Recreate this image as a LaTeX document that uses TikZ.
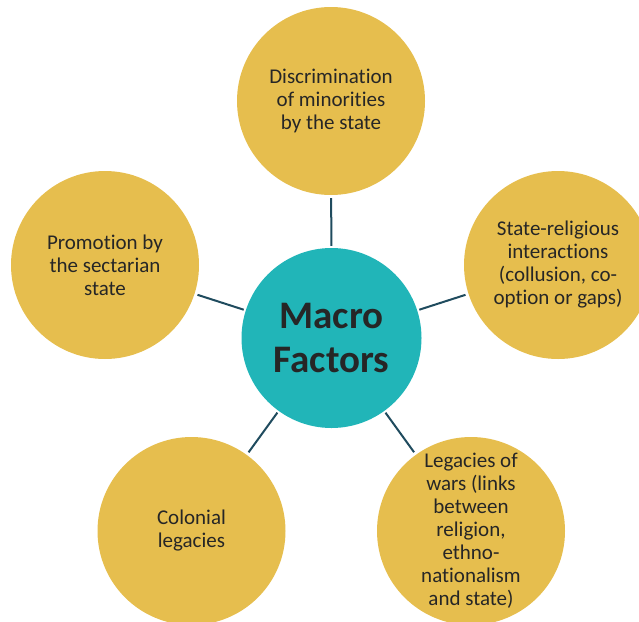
\documentclass[tikz,border=0pt]{standalone}
\usepackage{fontspec}
\setmainfont{Carlito}[Ligatures=NoCommon]
\definecolor{gold}{HTML}{E6BE4E}
\definecolor{teal}{HTML}{21B5B8}
\definecolor{ink}{HTML}{262626}
\definecolor{linkcol}{HTML}{1F4B5E}
\tikzset{
  factor/.style={circle, fill=gold, inner sep=0pt, minimum size=188pt, align=center,
    text=ink, font=\fontsize{21}{23}\selectfont},
  hub/.style={circle, fill=teal, inner sep=0pt, minimum size=180pt, align=center,
    text=ink, font=\fontsize{39}{44}\selectfont\bfseries},
  link/.style={draw=linkcol, line width=2pt, shorten <=2pt, shorten >=3pt}
}

\begin{document}
\begin{tikzpicture}[x=1pt,y=-1pt]
            \useasboundingbox (0,0) rectangle (639,621);
            \node[hub] (macro) at (331.5,338) {Macro\\Factors};
            \node[factor] (discrim) at (331,101) {Discrimination\\of minorities\\by the state};
            \node[factor] (promo) at (105,265) {Promotion by\\the sectarian\\state};
            \node[factor] (statrel) at (558,265) {State-religious\\interactions\\(collusion, co-\\option or gaps)};
            \node[factor] (colonial) at (191.5,531) {Colonial\\legacies};
            \node[factor] (wars) at (471,531) {Legacies of\\wars (links\\between\\religion,\\ethno-\\nationalism\\and state)};
            \draw[link] (macro) -- (discrim);
            \draw[link] (macro) -- (promo);
            \draw[link] (macro) -- (statrel);
            \draw[link] (macro) -- (colonial);
            \draw[link] (macro) -- (wars);
            \end{tikzpicture}
\end{document}
